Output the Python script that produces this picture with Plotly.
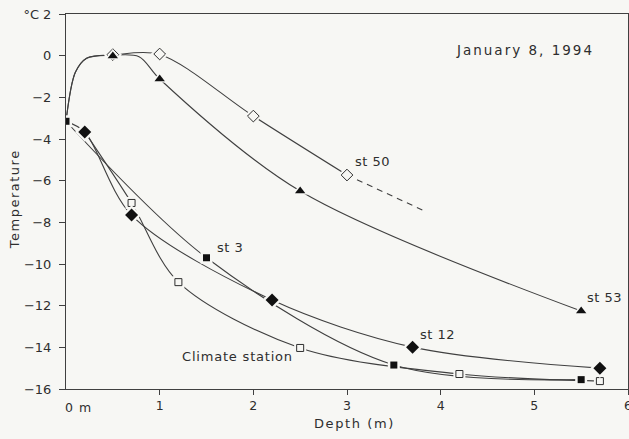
import plotly.graph_objects as go

# ---- data ----
st3_depth = [0.0, 1.5, 3.5, 5.5]
st3_temp = [-3.15, -9.7, -14.85, -15.55]

st12_depth = [0.2, 0.7, 2.2, 3.7, 5.7]
st12_temp = [-3.66, -7.65, -11.73, -13.99, -15.0]

climate_depth = [0.7, 1.2, 2.5, 4.2, 5.7]
climate_temp = [-7.07, -10.87, -14.03, -15.28, -15.62]

st50_depth = [0.5, 1.0, 2.0, 3.0]
st50_temp = [0.05, 0.08, -2.9, -5.73]
st50_ext_depth = [3.0, 3.85]
st50_ext_temp = [-5.73, -7.5]

st53_depth = [0.5, 1.0, 2.5, 5.5]
st53_temp = [-0.02, -1.12, -6.5, -12.26]

# traced curve paths (shape of the drawn lines)
st3_line_depth = [0.0, 1.5, 3.5, 5.5]
st3_line_temp = [-3.15, -9.7, -14.85, -15.55]
st12_line_depth = [0.0, 0.2, 0.7, 2.2, 3.7, 5.7]
st12_line_temp = [-3.15, -3.66, -7.65, -11.73, -13.99, -15.0]
climate_line_depth = [0.2, 0.7, 1.2, 2.5, 4.2, 5.7]
climate_line_temp = [-3.66, -7.07, -10.87, -14.03, -15.28, -15.62]
st50_line_depth = [0.0, 0.1, 0.22, 0.5, 1.0, 2.0, 3.0]
st50_line_temp = [-3.15, -0.8, -0.12, 0.03, 0.06, -2.9, -5.73]
st53_line_depth = [0.0, 0.1, 0.22, 0.5, 0.78, 1.0, 2.5, 5.5]
st53_line_temp = [-3.15, -0.8, -0.12, 0.02, -0.05, -1.12, -6.5, -12.26]

x_ticks = [1, 2, 3, 4, 5, 6]
x_ticktext = ["1", "2", "3", "4", "5", "6"]
y_ticks = [2, 0, -2, -4, -6, -8, -10, -12, -14, -16]
y_ticktext = ["°C 2", "0", "−2", "−4", "−6", "−8", "−10", "−12", "−14", "−16"]

BG = "#f7f7f4"
INK = "#2e2e2e"
LINE = "#404040"
FONT = "DejaVu Sans"

fig = go.Figure()

def add_line(x, y):
    fig.add_trace(go.Scatter(x=x, y=y, mode="lines",
                             line=dict(color=LINE, width=1.1, shape="spline", smoothing=0.9),
                             hoverinfo="skip", showlegend=False))

add_line(st3_line_depth, st3_line_temp)
add_line(st12_line_depth, st12_line_temp)
add_line(climate_line_depth, climate_line_temp)
add_line(st50_line_depth, st50_line_temp)
add_line(st53_line_depth, st53_line_temp)
fig.add_trace(go.Scatter(x=st50_ext_depth, y=st50_ext_temp, mode="lines",
                         line=dict(color=LINE, width=1.1, dash="6px,5px"),
                         hoverinfo="skip", showlegend=False))

def add_markers(x, y, symbol, size, filled=True):
    # halo to create the small gaps around markers
    halo_symbol = symbol.replace("-open", "")
    fig.add_trace(go.Scatter(x=x, y=y, mode="markers",
                             marker=dict(symbol=halo_symbol, size=size + 5, color=BG,
                                         line=dict(width=0)),
                             hoverinfo="skip", showlegend=False))
    if filled:
        mk = dict(symbol=symbol, size=size, color="#111111", line=dict(width=0))
    else:
        mk = dict(symbol=symbol, size=size, color=INK, line=dict(width=1, color=INK))
    fig.add_trace(go.Scatter(x=x, y=y, mode="markers", marker=mk,
                             hoverinfo="skip", showlegend=False))

add_markers(st50_depth, st50_temp, "diamond-open", 9, filled=False)
add_markers(st53_depth, st53_temp, "triangle-up", 9)
add_markers(climate_depth, climate_temp, "square-open", 7, filled=False)
add_markers(st12_depth, st12_temp, "diamond", 10)
add_markers(st3_depth, st3_temp, "square", 7)

def label(text, x, y, size=13, spacing=1.0, xanchor="center", xref="x", yref="y",
          angle=0, xshift=0):
    fig.add_annotation(text=f'<span style="letter-spacing:{spacing}px">{text}</span>',
                       x=x, y=y, xref=xref, yref=yref, showarrow=False,
                       xanchor=xanchor, yanchor="middle", textangle=angle, xshift=xshift,
                       font=dict(family=FONT, size=size, color=INK))

label("January 8, 1994", 4.9, 0.27, size=13.5, spacing=2.0)
label("st 50", 3.27, -5.1, spacing=0.5)
label("st 3", 1.75, -9.23, spacing=0.5)
label("st 12", 3.97, -13.36, spacing=0.5)
label("st 53", 5.75, -11.63, spacing=0.5)
label("Climate station", 1.83, -14.42, spacing=0.8)
label("0 m", 0, -0.048, size=12.5, spacing=1.0, xanchor="left", yref="paper", xshift=-3)
label("Depth (m)", 3.08, -0.0907, size=13, spacing=1.6, yref="paper")
label("Temperature", -0.0915, 0.505, size=13, spacing=1.5, xref="paper", yref="paper", angle=-90)

fig.update_layout(
    width=629, height=439,
    margin=dict(l=66, r=1, t=14, b=50, autoexpand=False),
    paper_bgcolor=BG, plot_bgcolor=BG,
    font=dict(family=FONT, size=12, color=INK),
    showlegend=False,
)
fig.update_xaxes(range=[0, 6], tickvals=x_ticks, ticktext=x_ticktext,
                 ticks="outside", ticklen=5, tickcolor=LINE, tickwidth=1,
                 showline=True, linecolor=LINE, linewidth=1, mirror=True,
                 showgrid=False, zeroline=False, ticklabeloverflow="allow",
                 automargin=False,
                 tickfont=dict(family=FONT, size=12.5, color=INK))
fig.update_yaxes(range=[-16, 2], tickvals=y_ticks, ticktext=y_ticktext,
                 ticks="outside", ticklen=6, tickcolor=LINE, tickwidth=1,
                 showline=True, linecolor=LINE, linewidth=1, mirror=True,
                 showgrid=False, zeroline=False, ticklabelstandoff=5,
                 automargin=False,
                 tickfont=dict(family=FONT, size=13, color=INK))

fig.write_html("out.html")
